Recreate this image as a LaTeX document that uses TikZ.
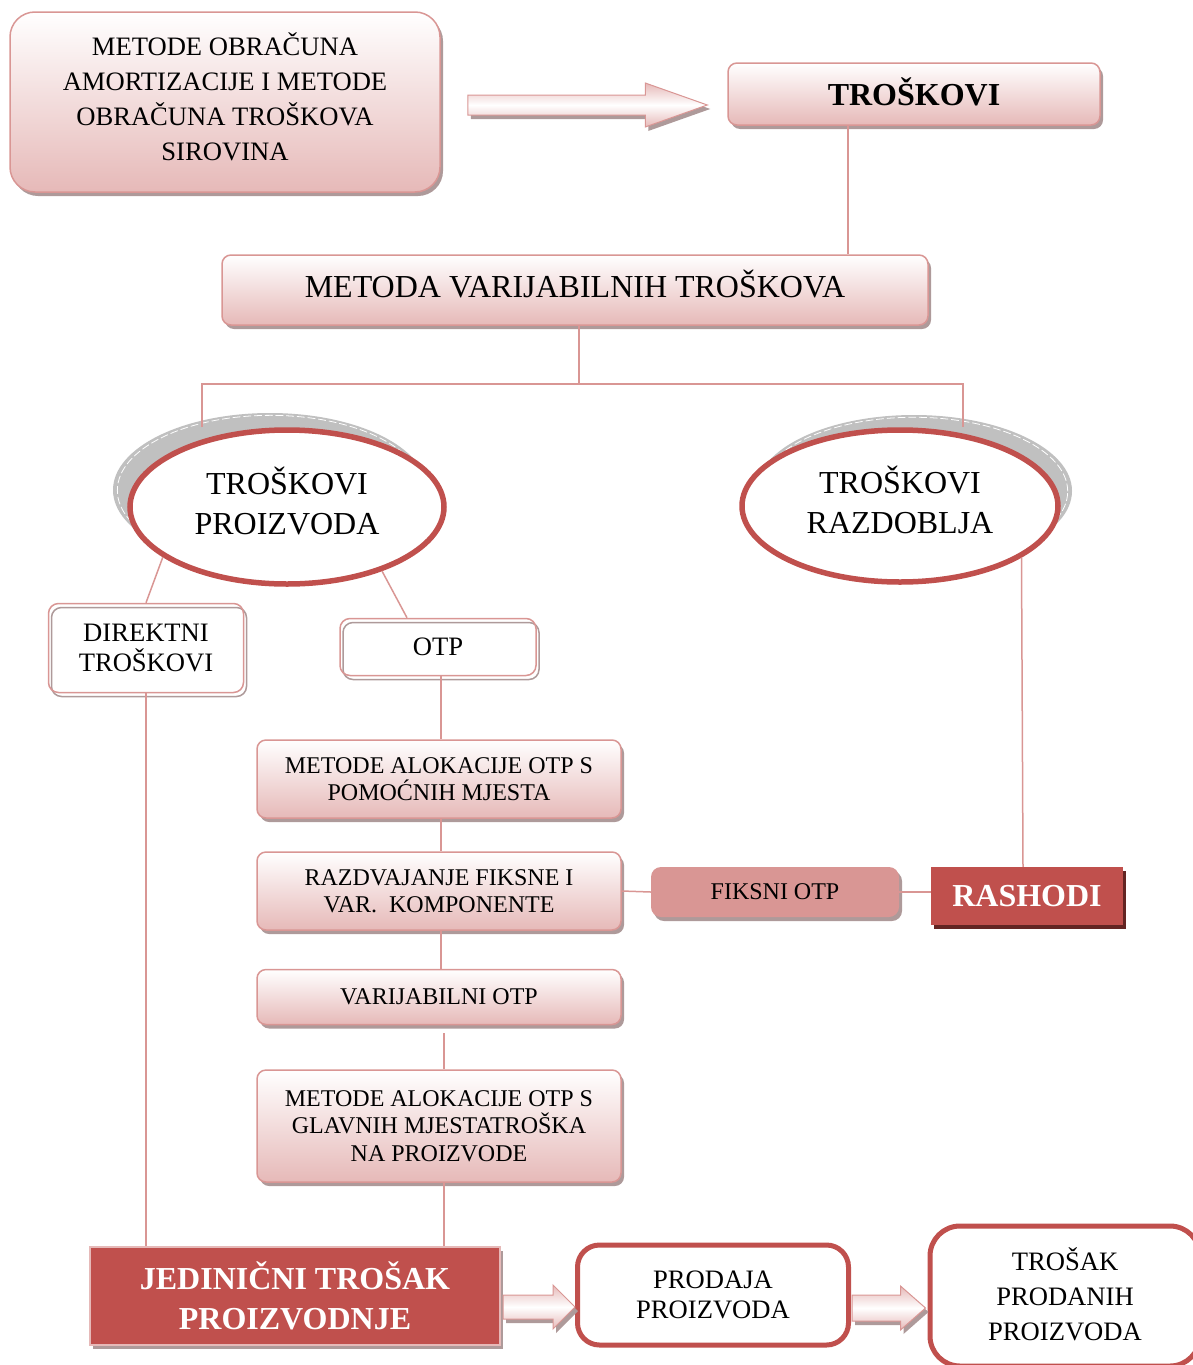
\documentclass[tikz,border=0pt]{standalone}
\usepackage{fontspec}
\setmainfont{Liberation Serif}
\usepackage{tikz}
\usetikzlibrary{calc}
\usetikzlibrary{shapes.geometric}
\usetikzlibrary{shadows}
\definecolor{pinkline}{HTML}{D99694}
\definecolor{pinkfill}{HTML}{E6B9B8}
\definecolor{redbox}{HTML}{C0504D}
\definecolor{darkred}{HTML}{632523}
\definecolor{shadowc}{HTML}{AE9A9A}
\definecolor{ovalgray}{HTML}{C0C0C0}
\newcommand\fsbig{\fontsize{32}{40}\selectfont}
\newcommand\fsbigbf{\fontsize{32}{40}\selectfont\bfseries}
\newcommand\fsmid{\fontsize{26.6}{35}\selectfont}
\newcommand\fsmidtight{\fontsize{26.6}{30}\selectfont}
\newcommand\fssmall{\fontsize{24}{27.5}\selectfont}
\def\thickness{1.5pt}
\tikzset{conn/.style={draw=pinkline, line width=\thickness}}
\tikzset{boxshadow/.style={drop shadow={shadow xshift=3pt, shadow yshift=-4pt, fill=#1, opacity=1}}}
\tikzset{gradbox/.style={draw=pinkline, line width=\thickness, rounded corners=9pt, top color=white, bottom color=pinkfill, align=center, inner sep=0pt, boxshadow=shadowc}}
\tikzset{whitebox/.style={draw=pinkline, line width=\thickness, rounded corners=10pt, align=center, inner sep=0pt,
    general shadow={shadow xshift=3pt, shadow yshift=-4pt, draw=shadowc, line width=\thickness, fill=none}}}
\tikzset{redframe/.style={draw=redbox, line width=5pt, rounded corners=22pt, fill=white, align=center, inner sep=0pt}}
\tikzset{redsolid/.style={fill=redbox, text=white, font=\fsbigbf, align=center, inner sep=0pt}}
\tikzset{oval/.style={ellipse, draw=redbox, line width=5.5pt, fill=white, align=center, inner sep=0pt, font=\fsbig, text depth=12pt}}
\tikzset{ovalshadow/.style 2 args={general shadow={shadow xshift=#1, shadow yshift=#2, fill=ovalgray},
    general shadow={shadow xshift=#1, shadow yshift=#2, shadow scale=0.975, draw=white, fill=none, line width=0.8pt, dash pattern=on 8pt off 3pt}}}
\tikzset{arrowbody/.style={draw=pinkline, line width=1pt, top color=pinkfill, bottom color=pinkfill, middle color=white}}
\newcommand\arrowshape[5]{($(#1)+(0,-#3)$) -- ($(#2)+(-#5,-#3)$) -- ($(#2)+(-#5,-#4)$) -- (#2) -- ($(#2)+(-#5,#4)$) -- ($(#2)+(-#5,#3)$) -- ($(#1)+(0,#3)$) -- cycle}
\newcommand\blockarrow[5]{%
  \fill[shadowc, transform canvas={shift={(3pt,-4pt)}}] \arrowshape{#1}{#2}{#3}{#4}{#5};
  \draw[arrowbody] \arrowshape{#1}{#2}{#3}{#4}{#5};
}

\begin{document}
\begin{tikzpicture}[x=1pt, y=-1pt]
\useasboundingbox (0,0) rectangle (1193,1365);

\node (metode) [gradbox, rounded corners=25pt, minimum width=430pt, minimum height=180pt, font=\fsmid, text depth=10pt] at (225,102) {METODE OBRAČUNA\\AMORTIZACIJE I METODE\\OBRAČUNA TROŠKOVA\\SIROVINA};
\node (troskovi) [gradbox, minimum width=372pt, minimum height=62pt, font=\fsbigbf, text depth=4pt] at (914,94) {TROŠKOVI};
\node (metoda) [gradbox, minimum width=706pt, minimum height=70pt, font=\fsbig, text depth=12pt] at (575,290) {METODA VARIJABILNIH TROŠKOVA};

\node (proizv) [oval, ovalshadow={-17pt}{17pt}, minimum width=314pt, minimum height=154pt] at (287,507) {TROŠKOVI\\PROIZVODA};
\node (razdob) [oval, ovalshadow={14pt}{15pt}, minimum width=316pt, minimum height=152pt] at (900,506) {TROŠKOVI\\RAZDOBLJA};

\node (direkt) [whitebox, minimum width=195pt, minimum height=89pt, font=\fsmidtight] at (146,648) {DIREKTNI\\TROŠKOVI};
\node (otp) [whitebox, minimum width=196pt, minimum height=57pt, font=\fsmid] at (438,647) {OTP};

\node (m1) [gradbox, minimum width=364pt, minimum height=78pt, font=\fssmall] at (439,779) {METODE ALOKACIJE OTP S\\POMOĆNIH MJESTA};
\node (m2) [gradbox, minimum width=364pt, minimum height=78pt, font=\fssmall] at (439,891) {RAZDVAJANJE FIKSNE I\\VAR.~~KOMPONENTE};
\node (m3) [gradbox, minimum width=364pt, minimum height=55pt, font=\fssmall] at (439,997) {VARIJABILNI OTP};
\node (m4) [gradbox, minimum width=364pt, minimum height=112pt, font=\fssmall] at (439,1126) {METODE ALOKACIJE OTP S\\GLAVNIH MJESTATROŠKA\\NA PROIZVODE};

\node (fiksni) [fill=pinkline, rounded corners=10pt, boxshadow=shadowc, minimum width=248pt, minimum height=50pt, font=\fssmall] at (775,892) {FIKSNI OTP};
\node (rashodi) [redsolid, boxshadow=darkred, minimum width=192pt, minimum height=58pt] at (1027,896) {RASHODI};

\node (jedin) [redsolid, draw=pinkfill, line width=2pt, boxshadow=shadowc, minimum width=410pt, minimum height=98pt] at (295,1296) {JEDINIČNI TROŠAK\\PROIZVODNJE};
\node (prodaja) [redframe, minimum width=271pt, minimum height=100pt, font=\fsmidtight] at (713,1295) {PRODAJA\\PROIZVODA};
\node (trosakprod) [redframe, rounded corners=30pt, minimum width=270pt, minimum height=140pt, font=\fsmid, text depth=4pt] at (1065,1296) {TROŠAK\\PRODANIH\\PROIZVODA};

% connectors
\draw[conn] ([xshift=-66pt]troskovi.south) -- ([xshift=-66pt]troskovi.south |- metoda.north);
\draw[conn] ([xshift=4pt]metoda.south) -- ++(0,58) coordinate (fork);
\draw[conn] ([xshift=-85pt]proizv.north) |- (fork) -| ([xshift=63pt]razdob.north);
\draw[conn] (proizv.202) -- (direkt.north);
\draw[conn] (proizv.326) -- ([xshift=-31pt]otp.north);
\draw[conn] ([xshift=3pt]otp.south) -- ([xshift=3pt]otp.south |- m1.north);
\draw[conn] ([xshift=2pt]m1.south) -- ([xshift=2pt]m2.north);
\draw[conn] ([xshift=2pt]m2.south) -- ([xshift=2pt]m3.north);
\draw[conn, shorten <=8pt] ([xshift=5pt]m3.south) -- ([xshift=5pt]m4.north);
\draw[conn] ([xshift=5pt]m4.south) -- ([xshift=5pt]m4.south |- jedin.north);
\draw[conn] (direkt.south) -- (direkt.south |- jedin.north);
\draw[conn] (m2.east) -- (fiksni.west);
\draw[conn] (fiksni.east) -- (fiksni.east -| rashodi.west);
\draw[conn] (razdob.337) -- ([xshift=-4pt]rashodi.north);

% block arrows
\coordinate (a1s) at ($(metode.east)+(27,3)$);
\coordinate (a1t) at ($(a1s -| troskovi.west)+(-20,0)$);
\blockarrow{a1s}{a1t}{10}{22}{62}
\coordinate (a2s) at ($(jedin.east)+(2,11)$);
\coordinate (a2t) at (a2s -| prodaja.west);
\blockarrow{a2s}{a2t}{12}{22}{22}
\coordinate (a3s) at ($(prodaja.east)+(1,13)$);
\coordinate (a3t) at ($(a3s -| trosakprod.west)+(-2,0)$);
\blockarrow{a3s}{a3t}{13}{22}{25}
\end{tikzpicture}
\end{document}
